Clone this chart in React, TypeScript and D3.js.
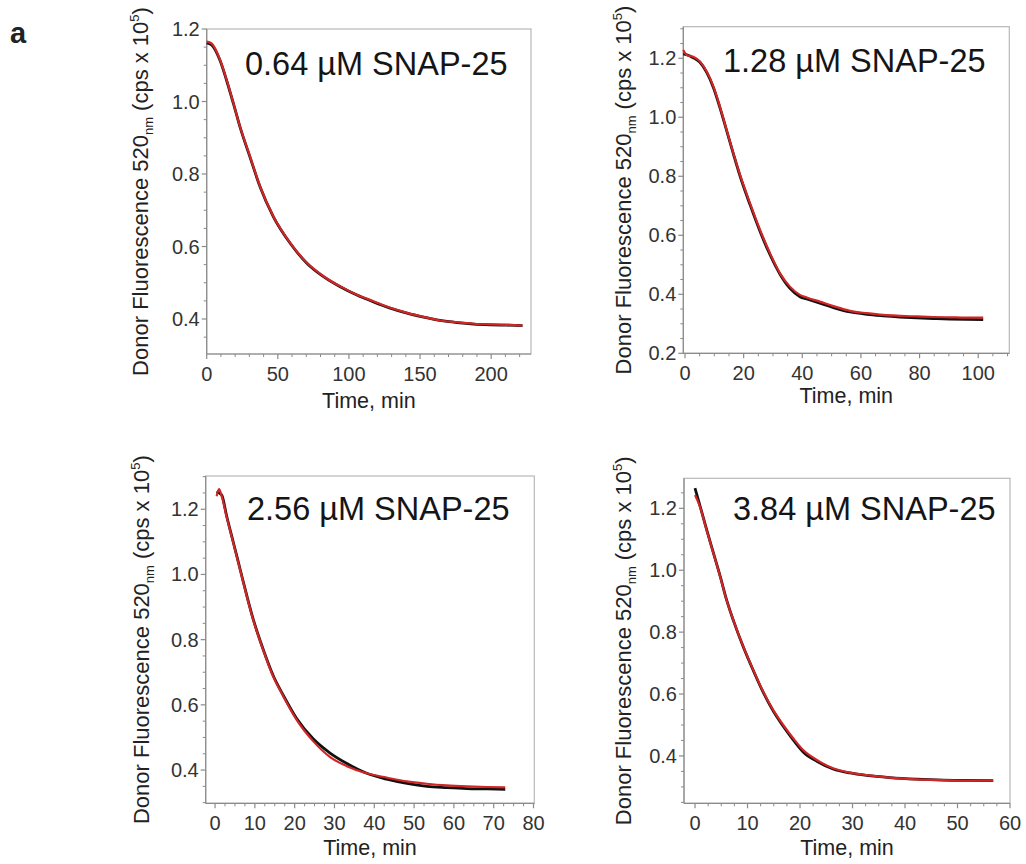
import React from "react";
import * as d3 from "d3";

// ---------- data ----------
const p1Time = [0, 3.5, 9.4, 14, 18.8, 23.4, 30.5, 37.5, 46.9, 58.7, 70.4, 82.1, 93.9, 105.6, 117.3, 129, 140.8, 152.5, 164, 176, 187.7, 199.5, 211, 222];
const p1Data = [1.165, 1.16, 1.115, 1.06, 0.995, 0.931, 0.848, 0.766, 0.683, 0.61, 0.555, 0.518, 0.49, 0.467, 0.449, 0.431, 0.417, 0.406, 0.396, 0.391, 0.387, 0.385, 0.384, 0.382];
const p1Fit = [1.162, 1.156, 1.113, 1.058, 0.994, 0.93, 0.846, 0.765, 0.682, 0.609, 0.554, 0.517, 0.489, 0.466, 0.447, 0.43, 0.416, 0.405, 0.396, 0.39, 0.386, 0.384, 0.383, 0.382];

const p2Time = [-0.6, 0.6, 2.8, 5.1, 7.4, 9.7, 11.9, 14.2, 16.5, 18.8, 22.2, 25.6, 29, 32.4, 35.8, 39.2, 41.5, 46, 50.6, 56.3, 62, 67.6, 73.3, 79, 84.7, 90.4, 96, 101.7];
const p2Data = [1.228, 1.211, 1.205, 1.189, 1.155, 1.104, 1.036, 0.957, 0.878, 0.804, 0.708, 0.618, 0.539, 0.471, 0.426, 0.398, 0.389, 0.375, 0.36, 0.344, 0.336, 0.33, 0.327, 0.325, 0.323, 0.322, 0.321, 0.321];
const p2Fit = [1.215, 1.212, 1.202, 1.186, 1.152, 1.1, 1.033, 0.955, 0.876, 0.8, 0.703, 0.613, 0.534, 0.468, 0.42, 0.392, 0.384, 0.37, 0.355, 0.34, 0.332, 0.327, 0.323, 0.32, 0.318, 0.316, 0.315, 0.314];

const p3Time = [0.4, 1.0, 1.7, 2.9, 4.6, 6.3, 8, 9.6, 12.1, 14.6, 17.2, 20.5, 24.7, 28.9, 33.1, 38.1, 43.1, 48.2, 53.2, 58.2, 63.2, 68.3, 72.9];
const p3Data = [1.24, 1.262, 1.239, 1.177, 1.096, 1.014, 0.932, 0.86, 0.768, 0.687, 0.625, 0.554, 0.488, 0.44, 0.412, 0.39, 0.377, 0.365, 0.358, 0.353, 0.35, 0.348, 0.347];
const p3Fit = [1.255, 1.25, 1.243, 1.18, 1.098, 1.016, 0.934, 0.862, 0.77, 0.69, 0.628, 0.558, 0.495, 0.452, 0.42, 0.39, 0.372, 0.359, 0.35, 0.346, 0.343, 0.342, 0.341];

const p4Time = [0, 0.95, 2.2, 3.5, 4.8, 6, 7.3, 9.2, 11.1, 13, 14.9, 16.8, 18.7, 20.6, 23.2, 26.3, 29.5, 32.7, 37.1, 42.2, 47.3, 51.7, 56.8];
const p4Data = [1.243, 1.205, 1.13, 1.055, 0.979, 0.904, 0.839, 0.753, 0.678, 0.607, 0.548, 0.5, 0.457, 0.419, 0.387, 0.36, 0.346, 0.338, 0.33, 0.324, 0.322, 0.32, 0.32];
const p4Fit = [1.265, 1.208, 1.132, 1.056, 0.98, 0.905, 0.838, 0.752, 0.676, 0.605, 0.545, 0.496, 0.452, 0.413, 0.383, 0.358, 0.345, 0.337, 0.33, 0.325, 0.322, 0.321, 0.32];

const titles = ["0.64 µM SNAP-25", "1.28 µM SNAP-25", "2.56 µM SNAP-25", "3.84 µM SNAP-25"];
const p1XTicks = [0, 50, 100, 150, 200];
const p2XTicks = [0, 20, 40, 60, 80, 100];
const p3XTicks = [0, 10, 20, 30, 40, 50, 60, 70, 80];
const p4XTicks = [0, 10, 20, 30, 40, 50, 60];
const p1YTicks = [0.4, 0.6, 0.8, 1.0, 1.2];
const p2YTicks = [0.2, 0.4, 0.6, 0.8, 1.0, 1.2];
const p3YTicks = [0.4, 0.6, 0.8, 1.0, 1.2];
const p4YTicks = [0.4, 0.6, 0.8, 1.0, 1.2];

// ---------- layout ----------
const FONT = "'Liberation Sans', Arial, Helvetica, sans-serif";

type PanelCfg = {
  box: [number, number, number, number]; // left, top, right, bottom
  xDomain: [number, number];
  yDomain: [number, number];
  xTicks: number[];
  yTicks: number[];
  xMinor: number;
  yMinor: number;
  time: number[];
  data: number[];
  fit: number[];
  title: string;
  titlePos: [number, number];
  yLabelX: number;
  xLabelY: number;
};

const panels: PanelCfg[] = [
  {
    box: [206.7, 29, 531, 354],
    xDomain: [0, 228],
    yDomain: [0.3035, 1.2],
    xTicks: p1XTicks, yTicks: p1YTicks, xMinor: 10, yMinor: 0.05,
    time: p1Time, data: p1Data, fit: p1Fit, title: titles[0],
    titlePos: [245, 75], yLabelX: 148, xLabelY: 408,
  },
  {
    box: [683.3, 26.7, 1009.3, 353.3],
    xDomain: [-0.58, 110.6],
    yDomain: [0.2, 1.307],
    xTicks: p2XTicks, yTicks: p2YTicks, xMinor: 5, yMinor: 0.05,
    time: p2Time, data: p2Data, fit: p2Fit, title: titles[1],
    titlePos: [723, 72], yLabelX: 631, xLabelY: 403,
  },
  {
    box: [205.7, 476, 534.3, 803.3],
    xDomain: [-2.35, 80.2],
    yDomain: [0.298, 1.302],
    xTicks: p3XTicks, yTicks: p3YTicks, xMinor: 2.5, yMinor: 0.05,
    time: p3Time, data: p3Data, fit: p3Fit, title: titles[2],
    titlePos: [247, 520], yLabelX: 149, xLabelY: 855,
  },
  {
    box: [684, 478.3, 1010, 803.3],
    xDomain: [-2.1, 60],
    yDomain: [0.247, 1.297],
    xTicks: p4XTicks, yTicks: p4YTicks, xMinor: 2.5, yMinor: 0.05,
    time: p4Time, data: p4Data, fit: p4Fit, title: titles[3],
    titlePos: [733, 520], yLabelX: 631, xLabelY: 855,
  },
];

function minorTicks(domain: [number, number], step: number, majors: number[]) {
  const out: number[] = [];
  const start = Math.ceil(domain[0] / step - 1e-9);
  const end = Math.floor(domain[1] / step + 1e-9);
  for (let i = start; i <= end; i++) {
    const v = +(i * step).toFixed(6);
    if (!majors.some((m) => Math.abs(m - v) < 1e-6)) out.push(v);
  }
  return out;
}

function Panel({ cfg }: { cfg: PanelCfg }) {
  const [l, t, r, b] = cfg.box;
  const x = d3.scaleLinear().domain(cfg.xDomain).range([l, r]);
  const y = d3.scaleLinear().domain(cfg.yDomain).range([b, t]);
  const pts = cfg.time.map((tt, i) => [tt, cfg.data[i]] as [number, number]);
  const fpts = cfg.time.map((tt, i) => [tt, cfg.fit[i]] as [number, number]);
  const line = d3
    .line<[number, number]>()
    .x((d) => x(d[0]))
    .y((d) => y(d[1]))
    .curve(d3.curveMonotoneX);
  const xm = minorTicks(cfg.xDomain, cfg.xMinor, cfg.xTicks);
  const ym = minorTicks(cfg.yDomain, cfg.yMinor, cfg.yTicks);
  const axisColor = "#8a8a8a";
  const cy = (t + b) / 2;
  return (
    <g>
      <rect x={l} y={t} width={r - l} height={b - t} fill="none" stroke="#b8b8b8" strokeWidth={1.2} />
      <line x1={l} x2={l} y1={t} y2={b} stroke={axisColor} strokeWidth={1.2} />
      <line x1={l} x2={r} y1={b} y2={b} stroke={axisColor} strokeWidth={1.2} />
      {cfg.xTicks.map((v) => (
        <g key={"xt" + v}>
          <line x1={x(v)} x2={x(v)} y1={b} y2={b + 5} stroke={axisColor} strokeWidth={1.2} />
          <text x={x(v)} y={b + 26.5} textAnchor="middle" fontSize={20} fill="#333" fontFamily={FONT}>
            {v}
          </text>
        </g>
      ))}
      {xm.map((v) => (
        <line key={"xm" + v} x1={x(v)} x2={x(v)} y1={b} y2={b + 3} stroke={axisColor} strokeWidth={1} />
      ))}
      {cfg.yTicks.map((v) => (
        <g key={"yt" + v}>
          <line x1={l - 5} x2={l} y1={y(v)} y2={y(v)} stroke={axisColor} strokeWidth={1.2} />
          <text x={l - 7} y={y(v) + 7} textAnchor="end" fontSize={20} fill="#333" fontFamily={FONT}>
            {v.toFixed(1)}
          </text>
        </g>
      ))}
      {ym.map((v) => (
        <line key={"ym" + v} x1={l - 3} x2={l} y1={y(v)} y2={y(v)} stroke={axisColor} strokeWidth={1} />
      ))}
      <path d={line(fpts) || ""} fill="none" stroke="#111" strokeWidth={2.8} />
      <path d={line(pts) || ""} fill="none" stroke="#d02626" strokeWidth={2.2} />
      <text x={cfg.titlePos[0]} y={cfg.titlePos[1]} fontSize={32.5} fill="#151515" fontFamily={FONT}>
        {cfg.title}
      </text>
      <text x={(l + r) / 2} y={cfg.xLabelY} textAnchor="middle" fontSize={21.5} fill="#222" fontFamily={FONT}>
        Time, min
      </text>
      <text
        transform={`translate(${cfg.yLabelX},${cy}) rotate(-90)`}
        textAnchor="middle"
        fontSize={22}
        fill="#222"
        fontFamily={FONT}
      >
        Donor Fluorescence 520
        <tspan fontSize={13} dy={5}>nm</tspan>
        <tspan dx={6} dy={-5}>(cps x 10</tspan>
        <tspan fontSize={13} dy={-9}>5</tspan>
        <tspan dy={9}>)</tspan>
      </text>
    </g>
  );
}

export default function App() {
  return (
    <svg
      width={1026}
      height={864}
      style={{ position: "absolute", left: 0, top: 0, background: "#fff" }}
    >
      <rect x={0} y={0} width={1026} height={864} fill="#fff" />
      <text x={10} y={43} fontSize={29} fontWeight="bold" fill="#222" fontFamily={FONT}>
        a
      </text>
      {panels.map((p, i) => (
        <Panel key={i} cfg={p} />
      ))}
    </svg>
  );
}
